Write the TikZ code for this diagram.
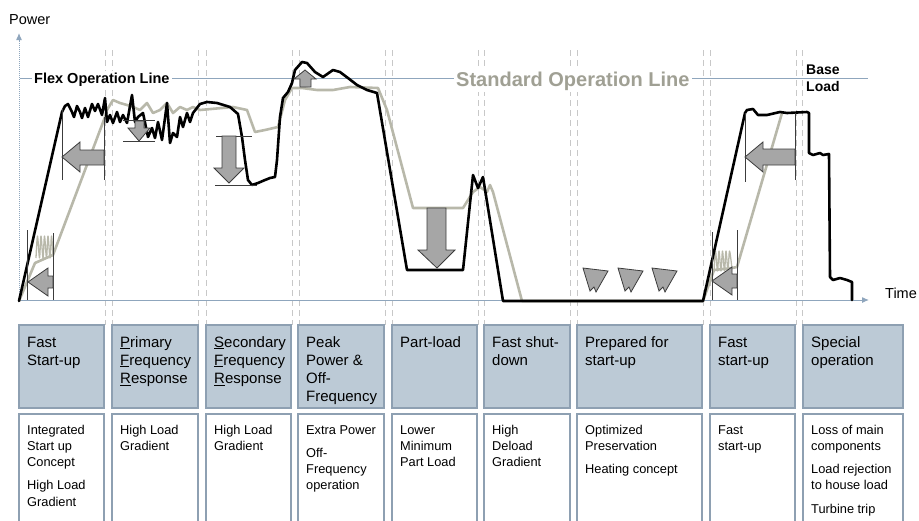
\documentclass[tikz,border=0pt]{standalone}
\usepackage{fontspec}
\setmainfont{Liberation Sans}
\usetikzlibrary{arrows.meta}

\definecolor{axisblue}{RGB}{143,166,189}
\definecolor{stdgray}{RGB}{184,184,170}
\definecolor{stdtext}{RGB}{160,160,148}
\definecolor{arrowfill}{RGB}{166,166,166}
\definecolor{arrowedge}{RGB}{60,60,60}
\definecolor{dashcol}{RGB}{200,200,200}
\definecolor{headfill}{RGB}{188,202,214}
\definecolor{boxedge}{RGB}{142,160,178}

\tikzset{
	axisline/.style={axisblue, line width=1pt},
	phasedash/.style={dashcol, line width=0.9pt, dash pattern=on 6pt off 4pt},
	flexcurve/.style={black, line width=2.6pt, line join=round, line cap=round},
	stdcurve/.style={stdgray, line width=2.6pt, line join=round},
	coil/.style={stdgray, line width=1.3pt, line join=round},
	blockarrow/.style={fill=arrowfill, draw=arrowedge, line width=0.8pt},
	marker/.style={draw=arrowedge, line width=0.8pt},
	headbox/.style={fill=headfill, draw=boxedge, line width=1.2pt},
	bodybox/.style={draw=boxedge, line width=1.2pt},
	headtext/.style={anchor=base west, inner sep=0, font=\fontsize{15}{18.2}\selectfont},
	bodytext/.style={anchor=base west, inner sep=0, font=\fontsize{12.8}{16.3}\selectfont}
}
\newcommand{\celltext}[1]{\begin{tabular}[t]{@{}l@{}}#1\end{tabular}}

\begin{document}
\begin{tikzpicture}[x=1pt, y=-1pt]
	\useasboundingbox (0,0) rectangle (919,520);

	% phase borders
	\foreach \x in {105,112,198,206,292,299,385,392,478,484,570,577,703,710,796,802}
		\draw[phasedash] (\x,50) -- (\x,325);

	% axes
	\coordinate (origin) at (19,300);
	\coordinate (ytip) at (19,33);
	\coordinate (xtip) at (869,300);
	\draw[axisline, densely dotted, -{Latex[length=7pt,width=6pt]}] (origin) -- (ytip);
	\draw[axisline, -{Latex[length=7pt,width=6pt]}] (origin) -- (xtip);
	\node[anchor=base west, inner sep=0, font=\fontsize{14.5}{17}\selectfont] (power) at (9,24) {Power};
	\node[anchor=base west, inner sep=0, font=\fontsize{14.5}{17}\selectfont] (time) at (885,298) {Time};

	% operation line
	\coordinate (opstart) at (20,78);
	\coordinate (opend) at (868,78);
	\draw[axisline] (opstart) -- (opend);
	\node[anchor=base west, fill=white, inner sep=2pt, font=\bfseries\fontsize{14.5}{17}\selectfont] (flex) at (32,83.3) {Flex Operation Line};
	\node[anchor=base west, fill=white, inner sep=2pt, text=stdtext, font=\bfseries\fontsize{20}{24}\selectfont] (standard) at (454,86) {Standard Operation Line};
	\node[anchor=base west, inner sep=0, font=\bfseries\fontsize{14}{17.7}\selectfont] (baseload) at (806,74) {\celltext{Base\\Load}};

	% standard operation
	\draw[stdcurve] plot coordinates {(19,301) (35,263) (53,255)
		(105,117) (107,110) (113,100) (120,103) (127,105) (133,107) (140,110) (147,103) (153,113) (160,110) (167,103) (173,113) (180,107) (187,110) (193,107) (200,110)
		(233,107) (247,110) (255,132) (265,130) (278,127) (285,100) (292,88) (302,88) (317,90) (333,90) (350,87) (378,88) (387,110) (413,208) (463,208)
		(473,192) (480,187) (487,192) (490,185) (493,192) (522,301) (703,301)};
	\draw[stdcurve] plot coordinates {(703,301) (714,270) (732,268) (737,267) (782,113)};
	% start-up coils
	\draw[coil] plot[smooth] coordinates {(36,258) (37.5,236) (39.5,258) (41,236) (43,258) (44.5,236) (46.5,258) (48,236) (50,258) (51.5,236) (53,256)};
	\draw[coil] plot[smooth] coordinates {(714,271) (715.5,251) (717.5,271) (719,251) (721,271) (722.5,251) (724.5,271) (726,251) (728,271) (729.5,251) (732,269)};

	% flex operation
	\draw[flexcurve] plot coordinates {(19,301) (62,112) (65,106) (68,104) (72,112) (74,117) (77,106) (80,112) (82,118) (85,108) (88,117) (92,104) (95,111) (98,104) (102,115) (105,98)
		(107,122) (110,115) (113,123) (117,112) (120,122) (123,115) (127,123) (132,95) (135,122) (138,117) (143,113) (148,137) (152,128) (155,138) (158,122) (162,140)
		(165,118) (167,103) (170,143) (173,133) (177,137) (180,117) (183,127) (187,113) (190,122) (193,113) (200,104) (207,102) (217,103) (230,107) (238,114)
		(242,137) (245,160) (248,180) (252,185) (258,183) (265,180) (270,178) (275,177) (277,160) (280,117) (283,98) (288,92) (292,83) (295,70) (302,62) (307,63)
		(315,72) (323,77) (333,70) (340,72) (348,78) (357,85) (367,90) (377,93) (407,270) (463,270) (473,175) (478,188) (483,177) (503,301) (703,301)
		(745,113) (747,110) (753,109) (758,115) (767,115) (780,112) (787,113) (807,112) (809,113) (809,153) (813,155) (820,153) (823,155) (829,154)
		(830,277) (833,280) (840,278) (847,280) (852,282) (852,300)};

	% gradient markers
	\draw[marker] (27,230) -- (27,300);
	\draw[marker] (53,233) -- (53,300);
	\draw[marker] (62,108) -- (62,180);
	\draw[marker] (104,117) -- (104,180);
	\draw[marker] (123,120) -- (155,120);
	\draw[marker] (123,141) -- (155,141);
	\draw[marker] (216,136) -- (252,136);
	\draw[marker] (215,185) -- (257,185);
	\draw[marker] (712,232) -- (712,300);
	\draw[marker] (737,230) -- (737,300);
	\draw[marker] (745,113) -- (745,182);
	\draw[marker] (795,113) -- (795,180);

	% block arrows
	\draw[blockarrow] (28,282) -- (48,268) -- (48,276) -- (53,276) -- (53,288) -- (48,288) -- (48,296) -- cycle;
	\draw[blockarrow] (62,157) -- (80,142) -- (80,150) -- (104,150) -- (104,165) -- (80,165) -- (80,172) -- cycle;
	\draw[blockarrow] (139,141) -- (150,128) -- (144,128) -- (144,121) -- (135,121) -- (135,128) -- (128,128) -- cycle;
	\draw[blockarrow] (229,183) -- (244,168) -- (236,168) -- (236,136) -- (222,136) -- (222,168) -- (214,168) -- cycle;
	\draw[blockarrow] (305,70) -- (316,79) -- (311,79) -- (311,87) -- (300,87) -- (300,79) -- (294,79) -- cycle;
	\draw[blockarrow] (437,268) -- (455,250) -- (446,250) -- (446,208) -- (427,208) -- (427,250) -- (418,250) -- cycle;
	\foreach \dx in {0,35,69}
		\draw[blockarrow, shift={(\dx,0)}] (583,268) -- (608,271) -- (596,292) -- (594,287) -- (590,291) -- cycle;
	\draw[blockarrow] (712,281) -- (732,267) -- (732,274) -- (737,274) -- (737,288) -- (732,288) -- (732,295) -- cycle;
	\draw[blockarrow] (745,157) -- (763,142) -- (763,149) -- (795,149) -- (795,165) -- (763,165) -- (763,172) -- cycle;

	% phase table
	\foreach \xa/\xb/\head/\body [count=\i] in {
		19/104/{Fast\\Start-up}/{Integrated\\Start up\\Concept\\[7pt]High Load\\Gradient},
		112/198/{\underline{P}rimary\\\underline{F}requency\\\underline{R}esponse}/{High Load\\Gradient},
		206/291/{\underline{S}econdary\\\underline{F}requency\\\underline{R}esponse}/{High Load\\Gradient},
		298/384/{Peak\\Power \&\\Off-\\Frequency}/{Extra Power\\[7pt]Off-\\Frequency\\operation},
		392/477/{Part-load}/{Lower\\Minimum\\Part Load},
		484/570/{Fast shut-\\down}/{High\\Deload\\Gradient},
		577/702/{Prepared for\\start-up}/{Optimized\\Preservation\\[7pt]Heating concept},
		710/795/{Fast\\start-up}/{Fast\\start-up},
		803/903/{Special\\operation}/{Loss of main\\components\\[7pt]Load rejection\\to house load\\[7pt]Turbine trip}}
	{
		\draw[headbox] (\xa,325) rectangle (\xb,408);
		\draw[bodybox] (\xa,521) -- (\xa,414) -- (\xb,414) -- (\xb,521);
		\node[headtext] (head\i) at (\xa+8,347) {\celltext{\head}};
		\node[bodytext] (body\i) at (\xa+8,434) {\celltext{\body}};
	}
\end{tikzpicture}
\end{document}
